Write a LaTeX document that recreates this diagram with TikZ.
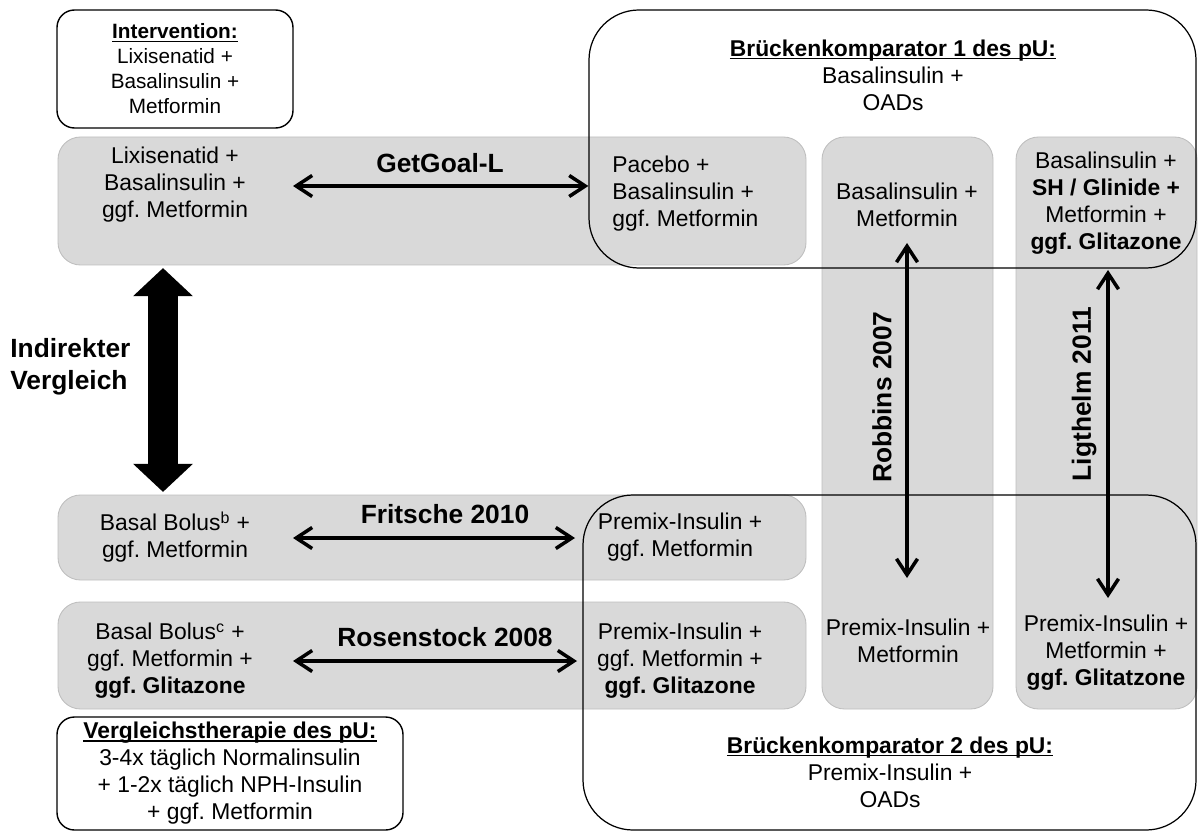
\documentclass[tikz,border=0pt]{standalone}
\usepackage{fontspec}
\setmainfont{Liberation Sans}
\usetikzlibrary{arrows.meta, fit}
\frenchspacing

\definecolor{boxgrey}{HTML}{D9D9D9}
\definecolor{edgegrey}{HTML}{BFBFBF}
\newcommand{\ultitle}[1]{\setbox0\hbox{\textbf{#1}}\rlap{\rule[-1.6pt]{\wd0}{0.7pt}}\box0}
\tikzset{
	greybox/.style={fill=boxgrey, draw=edgegrey, line width=0.5pt, rounded corners=0.45cm, inner sep=0pt},
	bridge/.style={draw, line width=0.7pt, rounded corners=1cm, inner sep=0pt},
	infobox/.style={draw, line width=0.8pt, rounded corners=0.35cm, inner sep=0pt},
	txt/.style={align=center, font=\fontsize{13}{15.4}\selectfont, inner sep=0pt},
	study/.style={font=\fontsize{15}{18}\selectfont\bfseries, inner sep=0pt},
	link/.style={line width=2pt, {Straight Barb[length=3.2mm,width=4.2mm]}-{Straight Barb[length=3.2mm,width=4.2mm]}},
	bigarrow/.style={line width=0.6cm, {Triangle[length=0.56cm,width=1.16cm]}-{Triangle[length=0.56cm,width=1.16cm]}}
}

\begin{document}
\begin{tikzpicture}[x=0.02cm, y=-0.02cm]
	\useasboundingbox (0,0) rectangle (1199,834);
	\node[greybox, fit={(58,137) (806,265)}] (gg) {};
	\node[greybox, fit={(822,137) (993,709)}] (rob) {};
	\node[greybox, fit={(1016,137) (1197,709)}] (lig) {};
	\node[greybox, fit={(58,495) (806,580)}] (fri) {};
	\node[greybox, fit={(58,602) (806,709)}] (ros) {};
	\node[bridge, fit={(589,10) (1196,268)}] (bk1) {};
	\node[bridge, fit={(583,495) (1196,830)}] (bk2) {};
	\node[infobox, fit={(57,10) (293,128)}] (int) {};
	\node[infobox, fit={(57,717) (403,830)}] (zvt) {};

	\node[txt, font=\fontsize{11.8}{14.2}\selectfont] (inttxt) at (int.center) {\ultitle{Intervention:}\\Lixisenatid +\\Basalinsulin +\\Metformin};
	\node[txt] (bk1txt) at (893,75) {\ultitle{Brückenkomparator 1 des pU:}\\Basalinsulin +\\OADs};
	\node[txt] (gglixi) at (175,185) {Lixisenatid +\\Basalinsulin +\\ggf. Metformin};
	\node[txt, align=left, anchor=west] (ggplac) at (612,194) {Pacebo +\\Basalinsulin +\\ggf. Metformin};
	\node[txt] (robtop) at (907,205) {Basalinsulin +\\Metformin};
	\node[txt] (ligtop) at (1106,203) {Basalinsulin +\\\textbf{SH / Glinide +}\\Metformin +\\\textbf{ggf. Glitazone}};
	\node[txt] (fribb) at (175,537) {Basal Bolus\textsuperscript{b} +\\ggf. Metformin};
	\node[txt] (fripre) at (680,537) {Premix-Insulin +\\ggf. Metformin};
	\node[txt] (rosbb) at (170,661) {Basal Bolus\textsuperscript{c} +\\ggf. Metformin +\\\textbf{ggf. Glitazone}};
	\node[txt] (rospre) at (680,661) {Premix-Insulin +\\ggf. Metformin +\\\textbf{ggf. Glitazone}};
	\node[txt] (robbot) at (908,641) {Premix-Insulin +\\Metformin};
	\node[txt] (ligbot) at (1106,653) {Premix-Insulin +\\Metformin +\\\textbf{ggf. Glitatzone}};
	\node[txt] (bk2txt) at (890,772) {\ultitle{Brückenkomparator 2 des pU:}\\Premix-Insulin +\\OADs};
	\node[txt] (zvttxt) at (zvt.center) {\ultitle{Vergleichstherapie des pU:}\\3-4x täglich Normalinsulin\\+ 1-2x täglich NPH-Insulin\\+ ggf. Metformin};

	\node[study] (getgoal) at (440,163) {GetGoal-L};
	\node[study] (fritsche) at (445,514) {Fritsche 2010};
	\node[study] (rosen) at (445,637) {Rosenstock 2008};
	\node[study, rotate=90] (robbins) at (882,397) {Robbins 2007};
	\node[study, rotate=90] (ligthelm) at (1084,394) {Ligthelm 2011};
	\node[study, align=left, anchor=west] (indirekt) at (10,367) {Indirekter\\Vergleich};

	\coordinate (gga) at (293,186);
	\coordinate (fria) at (293,538);
	\coordinate (frib) at (575,538);
	\coordinate (rosa) at (293,661);
	\coordinate (rosb) at (577,661);
	\coordinate (roba) at (907,243);
	\coordinate (robb) at (907,578);
	\coordinate (liga) at (1108,270);
	\coordinate (ligb) at (1108,598);
	\coordinate (bx) at (163,0);
	\draw[link] (gga) -- (gga -| bk1.west);
	\draw[link] (fria) -- (frib);
	\draw[link] (rosa) -- (rosb);
	\draw[link] (roba) -- (robb);
	\draw[link] (liga) -- (ligb);
	\draw[bigarrow, shorten <=1.5pt, shorten >=1.5pt] (gg.south -| bx) -- (fri.north -| bx);
\end{tikzpicture}
\end{document}
